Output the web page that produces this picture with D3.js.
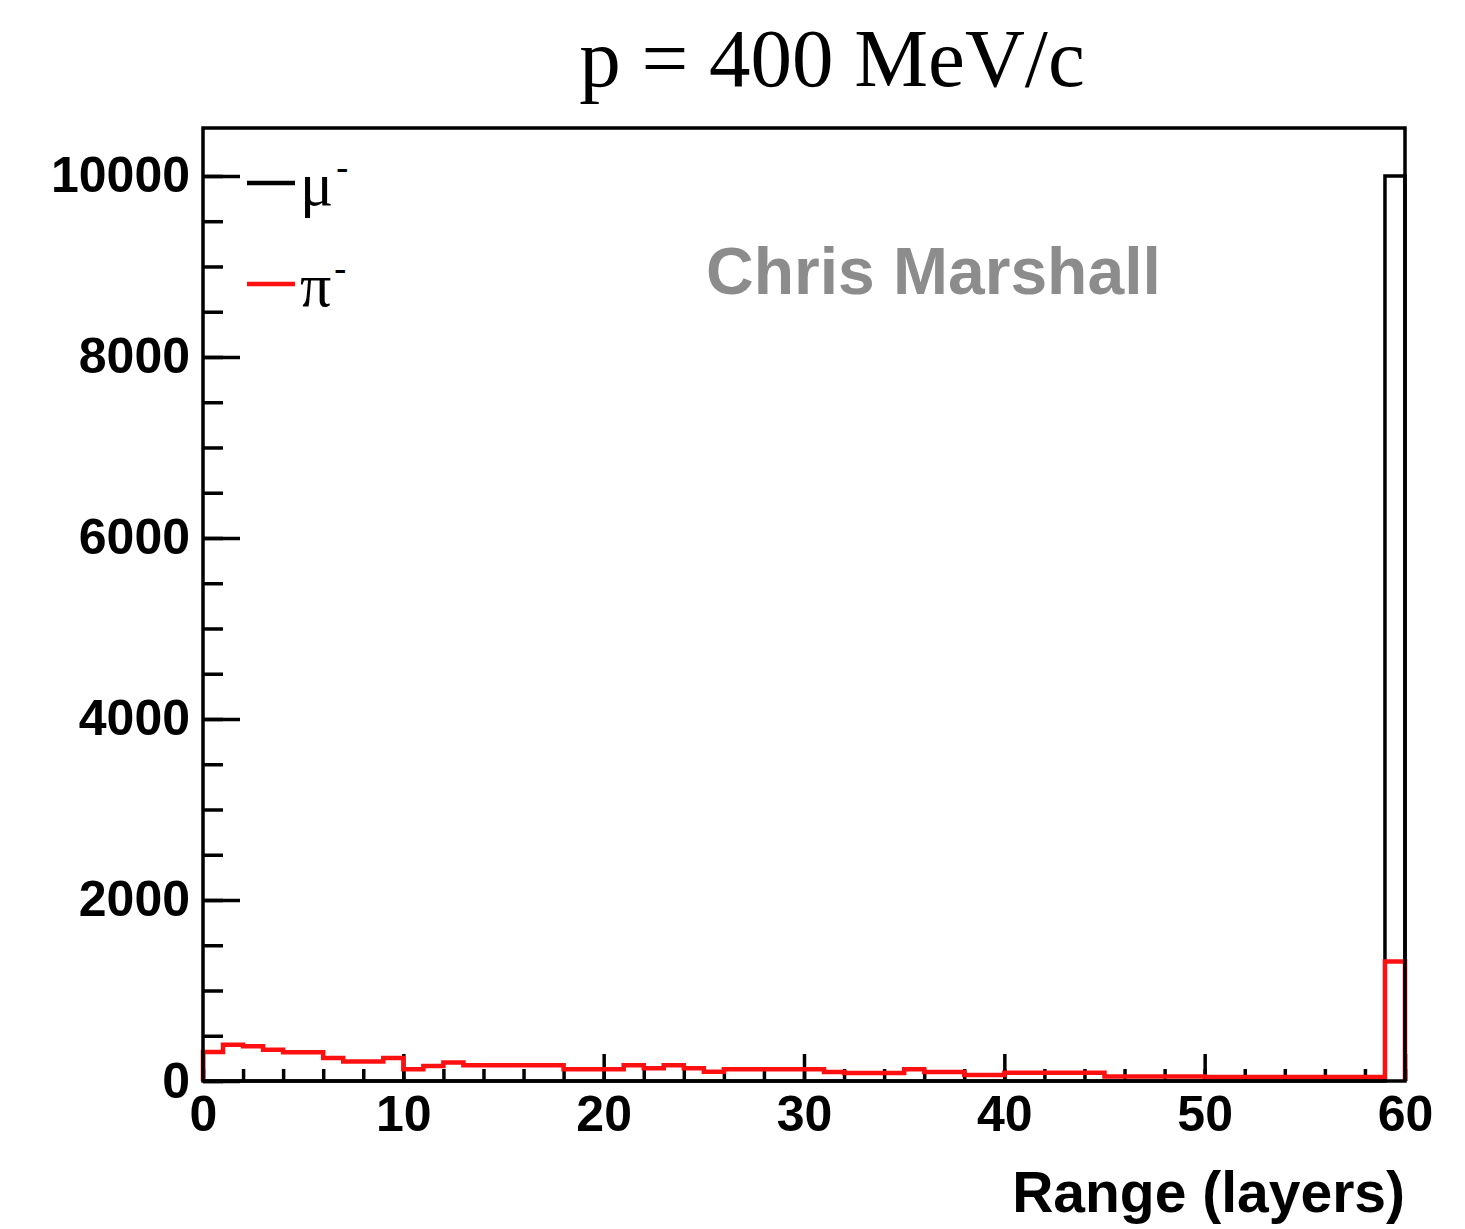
<!DOCTYPE html>
<html>
<head>
<meta charset="utf-8">
<script src="https://cdn.jsdelivr.net/npm/d3@7"></script>
<style>
  body { margin: 0; background: #fff; }
  .axis path { display: none; }
  .axis line { stroke: #000; stroke-width: 3.5; }
  .axis text { font-family: "Liberation Sans", Arial, sans-serif; font-weight: bold; font-size: 50px; fill: #000; }
</style>
</head>
<body>
<svg id="chart" width="1465" height="1229"></svg>
<script>
// range in layers, 60 bins of width 1
var binEdges = d3.range(0, 61);
// mu- : everything ends up in the last layer
var muCounts = d3.range(60).map(function (i) { return i === 59 ? 10000 : 0; });
// pi- counts per layer
var piCounts = [320, 400, 385, 345, 318, 318, 255, 215, 215, 255,
                130, 165, 205, 175, 175, 175, 175, 175, 130, 130,
                130, 175, 140, 175, 140, 103, 130, 130, 130, 130,
                130, 100, 88, 88, 88, 130, 100, 100, 66, 66,
                90, 90, 90, 90, 90, 50, 50, 50, 50, 50,
                45, 45, 45, 45, 45, 45, 45, 45, 45, 1320];
var xMajor = [0, 10, 20, 30, 40, 50, 60];
var xMinor = d3.range(0, 61, 2);
var yMajor = [0, 2000, 4000, 6000, 8000, 10000];
var yMinor = d3.range(0, 10001, 500);

var svg = d3.select("#chart");
var margin = { left: 203, right: 60, top: 128, bottom: 148 };
var width = 1465 - margin.left - margin.right;
var height = 1229 - margin.top - margin.bottom;

var x = d3.scaleLinear().domain([0, 60]).range([0, width]);
var y = d3.scaleLinear().domain([0, 10530]).range([height, 0]);

var g = svg.append("g").attr("transform", "translate(" + margin.left + "," + margin.top + ")");

/**
 * Build a step outline for a histogram, starting and ending on the baseline.
 */
function stepPath(counts) {
    var pts = [[x(binEdges[0]), y(0)]];
    counts.forEach(function (c, i) {
        pts.push([x(binEdges[i]), y(c)]);
        pts.push([x(binEdges[i + 1]), y(c)]);
    });
    pts.push([x(binEdges[binEdges.length - 1]), y(0)]);
    return d3.line()(pts);
}

// minor ticks
g.append("g").attr("class", "axis")
    .call(d3.axisLeft(y).tickValues(yMinor).tickSize(-20).tickFormat(""));
g.append("g").attr("class", "axis")
    .attr("transform", "translate(0," + height + ")")
    .call(d3.axisBottom(x).tickValues(xMinor).tickSize(-12).tickFormat(""));

// major ticks with labels
g.append("g").attr("class", "axis")
    .call(d3.axisLeft(y).tickValues(yMajor).tickSize(-37).tickPadding(13).tickFormat(d3.format("d")));
g.append("g").attr("class", "axis")
    .attr("transform", "translate(0," + height + ")")
    .call(d3.axisBottom(x).tickValues(xMajor).tickSize(-27).tickPadding(14).tickFormat(d3.format("d")));

// histograms
g.append("path").attr("d", stepPath(muCounts))
    .attr("fill", "none").attr("stroke", "#000").attr("stroke-width", 3.5);
g.append("path").attr("d", stepPath(piCounts))
    .attr("fill", "none").attr("stroke", "#ff1010").attr("stroke-width", 4.5);

// frame
g.append("rect").attr("width", width).attr("height", height)
    .attr("fill", "none").attr("stroke", "#000").attr("stroke-width", 3.5);

// title
svg.append("text")
    .attr("x", 832).attr("y", 86)
    .attr("text-anchor", "middle")
    .style("font-family", "'Liberation Serif', 'Times New Roman', serif")
    .style("font-size", "83px")
    .text("p = 400 MeV/c");

// x-axis title
svg.append("text")
    .attr("x", margin.left + width).attr("y", 1212)
    .attr("text-anchor", "end")
    .style("font-family", "'Liberation Sans', Arial, sans-serif")
    .style("font-weight", "bold")
    .style("font-size", "57px")
    .text("Range (layers)");

// author watermark
svg.append("text")
    .attr("x", 706).attr("y", 294)
    .style("font-family", "'Liberation Sans', Arial, sans-serif")
    .style("font-weight", "bold")
    .style("font-size", "66px")
    .style("fill", "#8c8c8c")
    .text("Chris Marshall");

// legend
var legend = [
    { label: "\u03bc", color: "#000", y: 183 },
    { label: "\u03c0", color: "#ff1010", y: 284 }
];
legend.forEach(function (d) {
    svg.append("line")
        .attr("x1", 247).attr("x2", 295)
        .attr("y1", d.y).attr("y2", d.y)
        .attr("stroke", d.color).attr("stroke-width", 4.5);
    var t = svg.append("text")
        .attr("x", 300).attr("y", d.y + 22)
        .style("font-family", "'Liberation Serif', 'Times New Roman', serif")
        .style("font-size", "62px")
        .text(d.label);
    t.append("tspan")
        .attr("dx", 3)
        .attr("dy", -26)
        .style("font-size", "36px")
        .style("font-weight", "bold")
        .text("-");
});
</script>
</body>
</html>
